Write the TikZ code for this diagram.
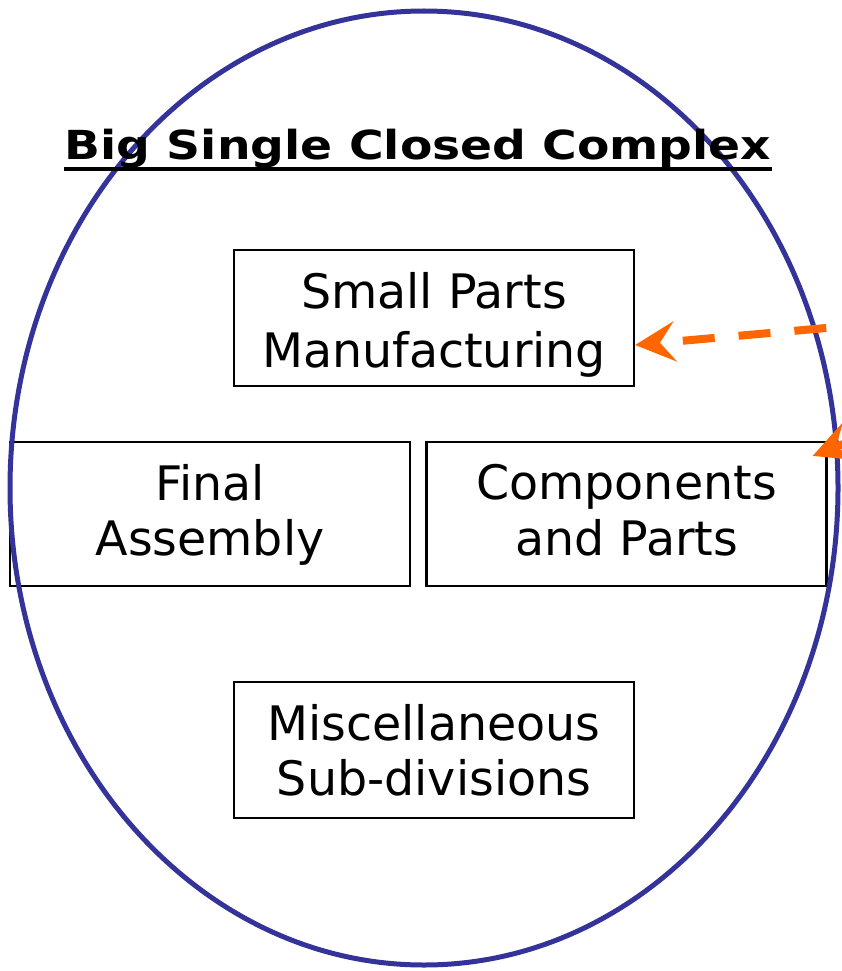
\documentclass[tikz,border=0pt]{standalone}
\usepackage{fontspec}
\setmainfont{DejaVu Sans}
\newfontfamily\titlefont[FakeStretch=1.18]{DejaVu Sans Bold}
\usetikzlibrary{arrows.meta,shapes.geometric}
\definecolor{ringblue}{HTML}{333399}
\definecolor{arroworange}{HTML}{FF6600}
\newcommand{\twolines}[4]{\rule{0pt}{#1pt}#3\\#4\rule[-#2pt]{0pt}{#2pt}}
\tikzset{
  unitbox/.style={draw=black, line width=2.2pt, minimum width=400pt, inner sep=0pt, align=center,
    font=\fontsize{47.5}{55}\selectfont},
  flowarrow/.style={draw=arroworange, line width=8pt, dash pattern=on 32pt off 24pt,
    -{Stealth[length=40pt,width=40pt,inset=15pt]}},
  ring/.style={draw=ringblue, line width=5pt},
}
\begin{document}
\begin{tikzpicture}[x=1pt,y=-1pt]
\useasboundingbox (0,0) rectangle (842,971);
\clip (0,0) rectangle (842,971);
\node[unitbox, minimum height=136pt, font=\fontsize{47.5}{59}\selectfont] (small) at (434,318) {\twolines{51}{12}{Small Parts}{Manufacturing}};
\node[unitbox, minimum height=144pt] (final) at (210,514) {\twolines{39}{12}{Final}{Assembly}};
\node[unitbox, minimum height=144pt, font=\fontsize{47.5}{56}\selectfont] (comp) at (626.5,514) {\twolines{38}{12}{Components}{and Parts}};
\node[unitbox, minimum height=136pt] (misc) at (434,750) {\twolines{47}{12}{Miscellaneous}{Sub-divisions}};
\node[ring, ellipse, minimum width=828pt, minimum height=954pt, inner sep=0pt] (ring) at (424,488) {};
\node[anchor=base, inner sep=0pt, font=\titlefont\fontsize{40}{48}\selectfont] (title) at (418,159) {Big Single Closed Complex};
\draw[line width=3.3pt] ([yshift=-10pt]title.base west) -- ([yshift=-10pt]title.base east);
\coordinate (src1) at (882,323);
\coordinate (src2) at (905,420);
\draw[flowarrow] (src1) -- ([yshift=-27pt]small.east);
\draw[flowarrow] (src2) -- ([xshift=-15pt,yshift=-15pt]comp.north east);
\end{tikzpicture}
\end{document}
